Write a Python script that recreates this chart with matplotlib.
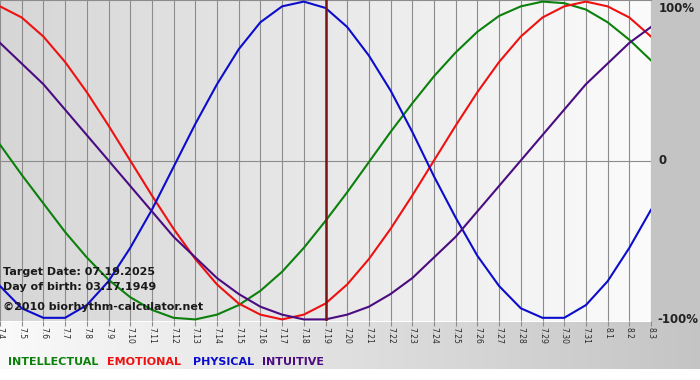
import numpy as np
import matplotlib.pyplot as plt

# day labels (month.day), 07.04 .. 08.03
days = ['7.4', '7.5', '7.6', '7.7', '7.8', '7.9', '7.10', '7.11', '7.12', '7.13',
        '7.14', '7.15', '7.16', '7.17', '7.18', '7.19', '7.20', '7.21', '7.22', '7.23',
        '7.24', '7.25', '7.26', '7.27', '7.28', '7.29', '7.30', '7.31', '8.1', '8.2', '8.3']

# values in percent for each day
intellectual = [10, -9, -27, -45, -61, -75, -86, -94, -99, -100, -97, -91, -82, -70, -55, -38,
                -20, -1, 18, 36, 53, 68, 81, 91, 97, 100, 99, 95, 87, 76, 63]
emotional = [97, 90, 78, 62, 43, 22, 0, -22, -43, -62, -78, -90, -97, -100, -97, -90,
             -78, -62, -43, -22, 0, 22, 43, 62, 78, 90, 97, 100, 97, 90, 78]
physical = [-79, -93, -99, -99, -91, -76, -55, -31, -4, 23, 48, 70, 87, 97, 100, 96,
            84, 66, 44, 18, -10, -36, -60, -79, -93, -99, -99, -91, -76, -55, -31]
intuitive = [74, 61, 48, 32, 16, 0, -16, -32, -48, -61, -74, -84, -92, -97, -100, -100,
             -97, -92, -84, -74, -61, -48, -32, -16, 0, 16, 32, 48, 61, 74, 84]

target_day = '7.19'
target_text = 'Target Date: 07.19.2025'
birth_text = 'Day of birth: 03.17.1949'
site_text = '\u00a92010 biorhythm-calculator.net'

series = [('INTELLECTUAL', intellectual, '#0c800c'),
          ('EMOTIONAL', emotional, '#ee1111'),
          ('PHYSICAL', physical, '#0c0ccc'),
          ('INTUITIVE', intuitive, '#4a0c80')]

W, H = 700, 380
fig = plt.figure(figsize=(W / 100, H / 100), dpi=100)

# page background: grey panel on the right, shaded strip under the plot
bg = fig.add_axes([0, 0, 1, 1])
bg.set_axis_off()
img = np.ones((H, W, 3))
img[:322, 651:] = 0.77
ramp = np.linspace(0.98, 0.77, W)
img[322:369, :] = ramp[None, :, None]
bg.imshow(img, extent=[0, W, H, 0], aspect='auto', interpolation='bilinear')
bg.set_xlim(0, W)
bg.set_ylim(H, 0)

ax = fig.add_axes([0, 1 - 321 / H, 651 / W, 321 / H])
x = np.arange(len(days))
grad = np.linspace(0.84, 0.985, 200)
shade = np.dstack([grad, grad, grad]).repeat(2, axis=0)
ax.imshow(shade, extent=[0, len(days) - 1, -101, 101], aspect='auto', zorder=0)

for xi in x:
    ax.axvline(xi, color='#8c8c8c', lw=0.8, zorder=1)
ax.axhline(0, color='#8c8c8c', lw=0.8, zorder=1)

for name, vals, col in series:
    ax.plot(x, vals, color=col, lw=1.5, zorder=3)

ax.axvline(days.index(target_day), color='#7a1414', lw=1.8, zorder=4)

ax.set_xlim(0, len(days) - 1)
ax.set_ylim(-101, 101)
for s in ['left', 'right', 'bottom']:
    ax.spines[s].set_visible(False)
ax.spines['top'].set_color('#8c8c8c')
ax.set_yticks([])
ax.set_xticks(x)
ax.set_xticklabels(days, rotation=-90, fontsize=5.5, color='#2a2a2a')
ax.tick_params(axis='x', direction='out', length=3.5, width=0.8, color='#8c8c8c', pad=1)

# right side scale labels
ty = ax.get_yaxis_transform()
ax.text(1.012, 100, '100%', transform=ty, ha='left', va='top', fontsize=8.5,
        fontweight='bold', color='#222222', clip_on=False)
ax.text(1.012, 0, '0', transform=ty, ha='left', va='center', fontsize=8.5,
        fontweight='bold', color='#222222', clip_on=False)
ax.text(1.01, -100, '-100%', transform=ty, ha='left', va='center', fontsize=8.5,
        fontweight='bold', color='#222222', clip_on=False)

# info texts
fig.text(3 / W, 1 - 272 / H, target_text, fontsize=8, fontweight='bold',
         color='#1a1a1a', va='center', zorder=5)
fig.text(3 / W, 1 - 287 / H, birth_text, fontsize=8, fontweight='bold',
         color='#1a1a1a', va='center', zorder=5)
fig.text(3 / W, 1 - 307 / H, site_text, fontsize=8, fontweight='bold',
         color='#1a1a1a', va='center', zorder=5)

# colored legend words
leg_x = [8, 107, 193, 262]
for (name, vals, col), lx in zip(series, leg_x):
    fig.text(lx / W, 1 - 362 / H, name, fontsize=8, fontweight='bold',
             color=col, va='center')

fig.savefig('out.png', dpi=100)
